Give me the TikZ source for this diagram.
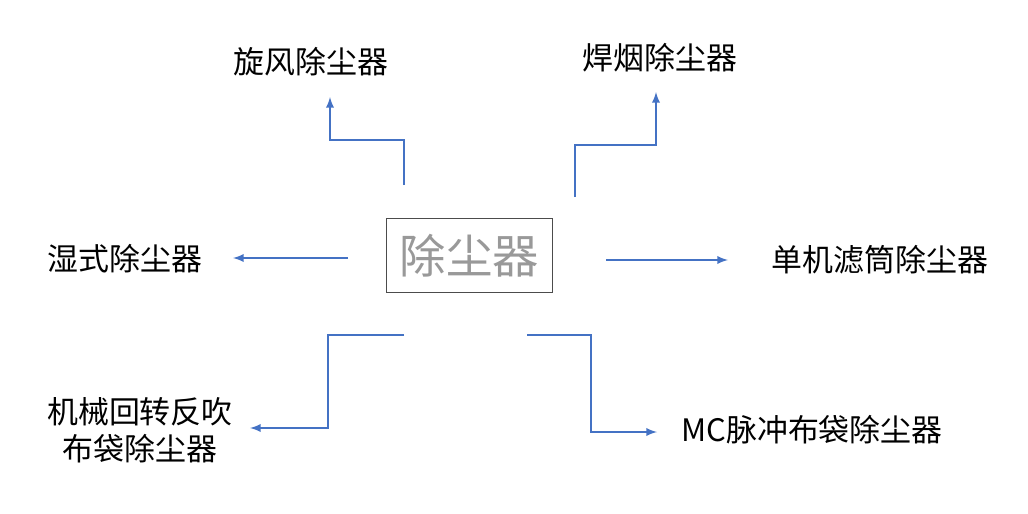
\documentclass[tikz,border=0pt]{standalone}
\usepackage{fontspec}
\newfontfamily\cjk{Noto Sans CJK SC}
\usetikzlibrary{arrows}
\definecolor{lineblue}{HTML}{4472C4}
\tikzset{label/.style={font=\cjk\fontsize{22pt}{26pt}\selectfont, text=black, align=center},
  link/.style={lineblue, line width=1.6pt, -latex}}
\begin{document}
\begin{tikzpicture}[x=0.025cm, y=-0.025cm]
\useasboundingbox (0,0) rectangle (1028,514);

\node[draw=black!70, minimum width=4.15cm, minimum height=1.85cm, text=black!40,
    font=\cjk\fontsize{33pt}{36pt}\selectfont] (dust) at (469.5,255.5) {除尘器};

\node[label] (cyclone) at (311,62) {旋风除尘器};
\node[label] (weld) at (660,58) {焊烟除尘器};
\node[label] (wet) at (125,259) {湿式除尘器};
\node[label] (filter) at (880,260) {单机滤筒除尘器};
\node[label] (bag) at (140,430) {机械回转反吹\\布袋除尘器};
\node[label] (mc) at (812,430) {MC脉冲布袋除尘器};

\coordinate (c1) at (404,185);
\coordinate (c2) at (575,197);
\coordinate (c3) at (348,258);
\coordinate (c4) at (606,260);
\coordinate (c5) at (404,335);
\coordinate (c6) at (527,335);
\coordinate (e1) at (330,97);
\coordinate (e2) at (656,92);
\coordinate (e3) at (233,258);
\coordinate (e4) at (728,260);
\coordinate (e5) at (250,428);
\coordinate (e6) at (657,432);

\draw[link] (c1) -- (404,140) -- (330,140) -- (e1);
\draw[link] (c2) -- (575,145) -- (656,145) -- (e2);
\draw[link] (c3) -- (e3);
\draw[link] (c4) -- (e4);
\draw[link] (c5) -- (328,335) -- (328,428) -- (e5);
\draw[link] (c6) -- (591,335) -- (591,432) -- (e6);

\end{tikzpicture}
\end{document}
